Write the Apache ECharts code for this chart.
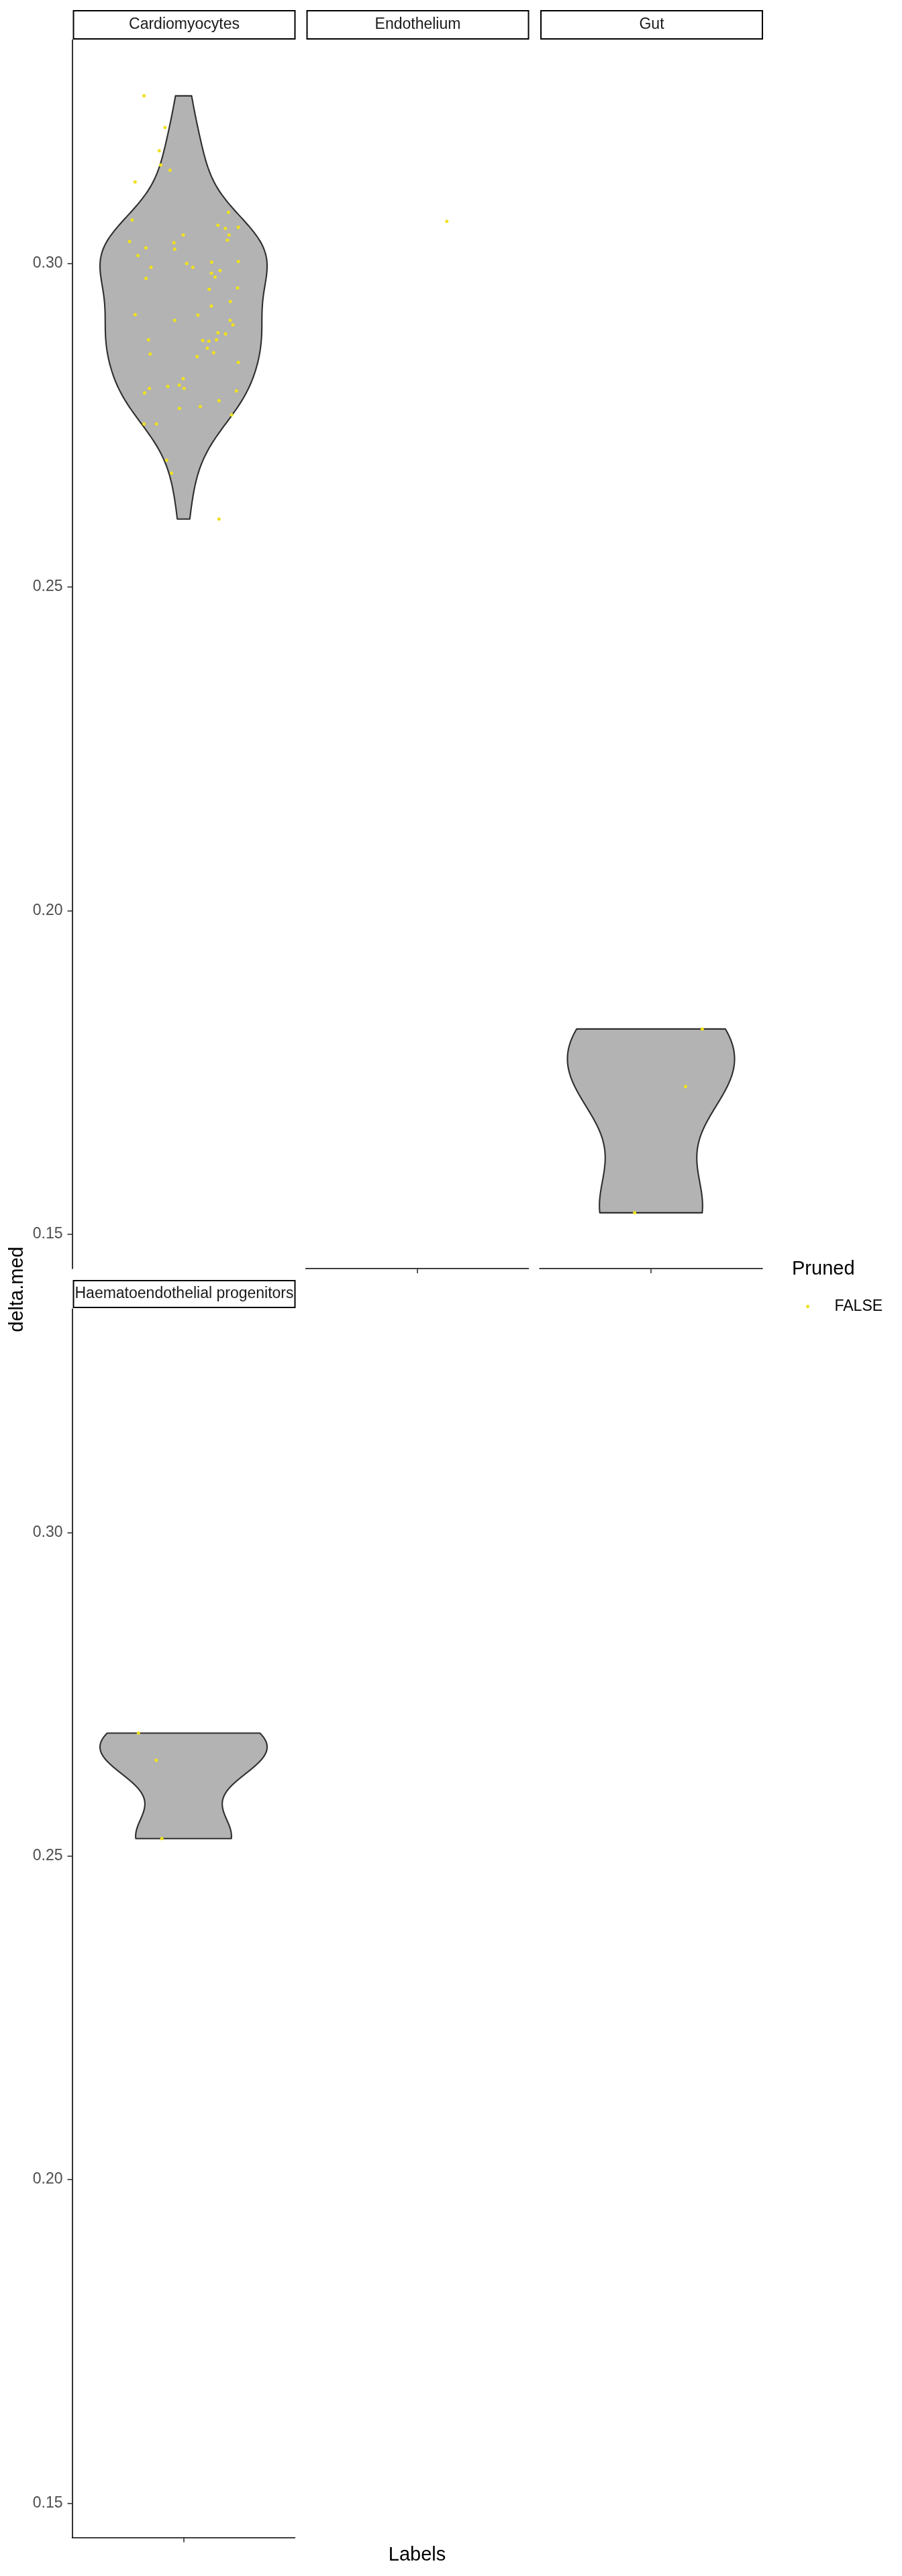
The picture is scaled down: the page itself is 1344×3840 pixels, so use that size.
<!DOCTYPE html>
<html>
<head>
<meta charset="utf-8">
<script src="https://cdn.jsdelivr.net/npm/echarts@6/dist/echarts.min.js"></script>
<style>
html,body{margin:0;padding:0;background:#ffffff;}
#chart{width:1344px;height:3840px;}
</style>
</head>
<body>
<div id="chart"></div>
<script>
// ---------------- data ----------------
const panelLabels = ['Cardiomyocytes', 'Endothelium', 'Gut', 'Haematoendothelial progenitors'];
const legendTitle = 'Pruned';
const legendLabel = 'FALSE';
const yTitle = 'delta.med';
const xTitle = 'Labels';
const yTicks = [0.15, 0.20, 0.25, 0.30];

const cardioValues = [
  0.3259, 0.3210, 0.3174, 0.3152, 0.3144, 0.3126, 0.3079, 0.3067, 0.3059, 0.3054,
  0.3056, 0.3044, 0.3044, 0.3036, 0.3034, 0.3032, 0.3024, 0.3022, 0.3012, 0.3002,
  0.3003, 0.3000, 0.2994, 0.2994, 0.2985, 0.2989, 0.2979, 0.2977, 0.2960, 0.2962,
  0.2941, 0.2934, 0.2921, 0.2920, 0.2912, 0.2912, 0.2905, 0.2893, 0.2891, 0.2882,
  0.2881, 0.2880, 0.2882, 0.2869, 0.2862, 0.2860, 0.2856, 0.2847, 0.2822, 0.2812,
  0.2810, 0.2807, 0.2807, 0.2800, 0.2803, 0.2788, 0.2779, 0.2776, 0.2766, 0.2752,
  0.2752, 0.2696, 0.2676, 0.2605
];
const cardioJitter = [
  -0.213, -0.100, -0.131, -0.123, -0.073, -0.261, 0.242, -0.277, 0.185, 0.225,
  0.295, -0.002, 0.245, 0.236, -0.291, -0.052, -0.203, -0.048, -0.246, 0.151,
  0.295, 0.017, 0.050, -0.175, 0.150, 0.196, 0.170, -0.202, 0.138, 0.291,
  0.252, 0.150, -0.261, 0.077, -0.048, 0.251, 0.266, 0.185, 0.226, -0.189,
  0.103, 0.136, 0.177, 0.128, 0.162, -0.180, 0.073, 0.295, -0.002, -0.023,
  -0.085, -0.184, 0.003, -0.210, 0.285, 0.191, 0.090, -0.022, 0.259, -0.213,
  -0.146, -0.091, -0.065, 0.191
];
const endoValues = [0.3065];
const endoJitter = [0.160];
const gutValues = [0.1817, 0.1728, 0.1533];
const gutJitter = [0.276, 0.186, -0.088];
const haemValues = [0.2690, 0.2648, 0.2527];
const haemJitter = [-0.243, -0.147, -0.117];

// ---------------- helpers ----------------
const FONT = "'Liberation Sans', Arial, Helvetica, sans-serif";
const POINT_COLOR = '#F0E11C';
const VIOLIN_FILL = '#B3B3B3';
const VIOLIN_STROKE = '#2E2E2E';

const panelValues = [cardioValues, endoValues, gutValues, haemValues];
const panelJitter = [cardioJitter, endoJitter, gutJitter, haemJitter];

const allVals = [].concat(cardioValues, endoValues, gutValues, haemValues);
const dMin = Math.min.apply(null, allVals), dMax = Math.max.apply(null, allVals);
const pad = (dMax - dMin) * 0.05;
const yMin = dMin - pad, yMax = dMax + pad;

// gaussian KDE with bw.nrd0, trimmed to data range (like ggplot2 geom_violin)
function kde(vals) {
  const s = vals.slice().sort((a, b) => a - b), n = s.length;
  const mean = s.reduce((a, b) => a + b, 0) / n;
  const sd = Math.sqrt(s.reduce((a, b) => a + (b - mean) * (b - mean), 0) / (n - 1));
  const q = p => { const h = (n - 1) * p, lo = Math.floor(h), hi = Math.min(lo + 1, n - 1); return s[lo] + (h - lo) * (s[hi] - s[lo]); };
  let lo = Math.min(sd, (q(0.75) - q(0.25)) / 1.34);
  if (!(lo > 0)) lo = sd || Math.abs(s[0]) || 1;
  const bw = 0.9 * lo * Math.pow(n, -0.2);
  const N = 512, ys = [], ds = [];
  for (let k = 0; k < N; k++) {
    const y = s[0] + (s[n - 1] - s[0]) * k / (N - 1);
    let d = 0;
    for (const v of s) { const z = (y - v) / bw; d += Math.exp(-0.5 * z * z); }
    ys.push(y); ds.push(d / (n * bw * Math.sqrt(2 * Math.PI)));
  }
  const mx = Math.max.apply(null, ds);
  return { y: ys, w: ds.map(d => 0.45 * d / mx) };
}

function violinRenderer(dens) {
  return function (params, api) {
    const pts = [];
    for (let k = 0; k < dens.y.length; k++) pts.push(api.coord([dens.w[k], dens.y[k]]));
    for (let k = dens.y.length - 1; k >= 0; k--) pts.push(api.coord([-dens.w[k], dens.y[k]]));
    return {
      type: 'polygon',
      shape: { points: pts },
      style: { fill: VIOLIN_FILL, stroke: VIOLIN_STROKE, lineWidth: 2.1, lineJoin: 'round' }
    };
  };
}

// ---------------- layout ----------------
const PW = 332, PH = 1831.5;
const lefts = [107.5, 455.5, 804, 107.5];
const tops = [59.6, 59.6, 59.6, 1951.3];
const stripTops = [15, 15, 15, 1908];
const stripH = [44, 44, 44, 42];
const showY = [true, false, false, true];
const showX = [false, true, true, true];

const grids = [], xAxes = [], yAxes = [], series = [], graphics = [];
for (let i = 0; i < 4; i++) {
  grids.push({ left: lefts[i], top: tops[i], width: PW, height: PH, containLabel: false, outerBoundsMode: 'none' });
  xAxes.push({
    type: 'value', gridIndex: i, min: -0.6, max: 0.6, position: 'bottom', show: showX[i],
    splitLine: { show: false },
    axisLine: { show: true, onZero: false, lineStyle: { color: '#000000', width: 1.6 } },
    axisTick: { show: true, length: 7, customValues: [0], lineStyle: { color: '#333333', width: 1.6 } },
    axisLabel: { show: false }
  });
  yAxes.push({
    type: 'value', gridIndex: i, min: yMin, max: yMax, position: 'left', show: showY[i],
    splitLine: { show: false },
    axisLine: { show: true, onZero: false, lineStyle: { color: '#000000', width: 1.6 } },
    axisTick: { show: true, length: 7, customValues: yTicks, lineStyle: { color: '#333333', width: 1.6 } },
    axisLabel: { show: true, customValues: yTicks, formatter: v => v.toFixed(2), color: '#4D4D4D', fontSize: 23, fontFamily: FONT, margin: 14 }
  });
  const vals = panelValues[i], jit = panelJitter[i];
  if (vals.length >= 2) {
    const dens = kde(vals);
    series.push({
      type: 'custom', xAxisIndex: i, yAxisIndex: i, z: 1, silent: true,
      renderItem: violinRenderer(dens),
      data: [[0, vals[0]]],
      encode: { x: 0, y: 1 }
    });
  }
  series.push({
    type: 'scatter', name: legendLabel, xAxisIndex: i, yAxisIndex: i, z: 3, silent: true,
    symbol: 'circle', symbolSize: 5,
    itemStyle: { color: POINT_COLOR, opacity: 1 },
    data: vals.map((v, k) => [jit[k], v])
  });
  // strip
  graphics.push({
    type: 'rect', silent: true,
    shape: { x: lefts[i] + 2, y: stripTops[i] + 1, width: PW - 2, height: stripH[i] - 2 },
    style: { fill: '#ffffff', stroke: '#000000', lineWidth: 2 }
  });
  graphics.push({
    type: 'text', silent: true,
    x: lefts[i] + 1 + PW / 2, y: stripTops[i] + stripH[i] / 2,
    style: { text: panelLabels[i], fill: '#1A1A1A', font: '23px ' + FONT, align: 'center', verticalAlign: 'middle' }
  });
}

graphics.push({
  type: 'text', silent: true, x: 25.5, y: 1922, rotation: Math.PI / 2,
  style: { text: yTitle, fill: '#000000', font: '29px ' + FONT, align: 'center', verticalAlign: 'middle' }
});
graphics.push({
  type: 'text', silent: true, x: 621.5, y: 3809,
  style: { text: xTitle, fill: '#000000', font: '29px ' + FONT, align: 'center', verticalAlign: 'middle' }
});
graphics.push({
  type: 'text', silent: true, x: 1180, y: 1892,
  style: { text: legendTitle, fill: '#000000', font: '29px ' + FONT, align: 'left', verticalAlign: 'middle' }
});

const chart = echarts.init(document.getElementById('chart'), null, { renderer: 'canvas' });
chart.setOption({
  animation: false,
  backgroundColor: '#ffffff',
  grid: grids,
  xAxis: xAxes,
  yAxis: yAxes,
  legend: {
    data: [legendLabel], left: 1196, top: 1931, orient: 'vertical',
    icon: 'circle', itemWidth: 70, itemHeight: 5, selectedMode: false,
    itemStyle: { color: POINT_COLOR },
    textStyle: { fontSize: 23, fontFamily: FONT, color: '#000000' }
  },
  graphic: graphics,
  series: series
});
</script>
</body>
</html>
